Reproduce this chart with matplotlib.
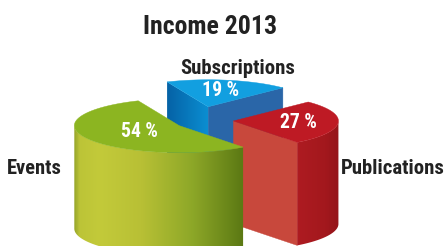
import numpy as np
import matplotlib
matplotlib.use("Agg")
import matplotlib.pyplot as plt
from matplotlib.patches import Polygon
from matplotlib.colors import LinearSegmentedColormap
from matplotlib import font_manager
from matplotlib.font_manager import FontProperties

# ---- data ----
title = "Income 2013"
categories = ["Subscriptions", "Publications", "Events"]
values = [19, 27, 54]
pct_labels = ["19 %", "27 %", "54 %"]

# ---- style / geometry ----
W, H = 447, 246
A, B = 105.0, 27.0          # ellipse semi-axes (px)
DEPTH = 103.0               # cylinder height (px)
CX, CY = 202.0, 120.0       # pie centre
START = 113.0               # start angle (deg), slices go clockwise
EXPLODE = [0.30, 0.30, 0.25]
EXPLODE_Y = 45.0
LABEL_R = [0.62, 0.62, 0.44]

top_col = ["#129fe0", "#be1a24", "#8cb521"]
cut_start_col = ["#2a66a8", "#c8483c", "#7fa020"]
side_maps = [
    LinearSegmentedColormap.from_list("b", ["#0a6fb3", "#1a8fd0"]),
    LinearSegmentedColormap.from_list("r", [(0.0, "#b01c22"), (0.7, "#a3181d"),
                                            (1.0, "#94151a")]),
    LinearSegmentedColormap.from_list("g", [(0.0, "#96a52a"), (0.03, "#bcc437"),
                                            (0.15, "#c3ca3a"), (0.40, "#b8c035"),
                                            (0.7, "#8ea828"), (1.0, "#5c7a14")]),
]
side_range = [(0.0, 1.0), (0.78, 1.0), (0.0, 0.8)]   # portion of width each map spans
blue_left_map = LinearSegmentedColormap.from_list("bl", ["#0562a6", "#0b8fd2"])


# ---- pick a bold condensed font if one is installed ----
def find_font():
    entries = font_manager.fontManager.ttflist
    prefs = ["Roboto Condensed", "Liberation Sans Narrow", "Arial Narrow",
             "Open Sans Condensed", "Noto Sans Condensed", "DejaVu Sans Condensed"]
    def is_bold(f):
        w = f.weight
        if isinstance(w, str):
            return w in ("bold", "heavy", "black", "demibold", "semibold", "extra bold")
        return w >= 600
    def is_cond(f):
        st = f.stretch
        n = f.name.lower() + " " + f.fname.lower()
        if isinstance(st, str):
            c = st in ("condensed", "semi-condensed", "extra-condensed", "ultra-condensed")
        else:
            c = st < 500
        return c or "condensed" in n or "narrow" in n
    cands = [f for f in entries if is_bold(f) and is_cond(f)
             and "italic" not in f.fname.lower() and f.style == "normal"]
    for p in prefs:
        for f in cands:
            if f.name == p or p.replace(" ", "").lower() in f.fname.replace("-", "").lower():
                return f.fname
    if cands:
        return cands[0].fname
    for f in entries:
        if f.name == "Liberation Sans" and is_bold(f) and f.style == "normal":
            return f.fname
    return None


FONT_FILE = find_font()


def fp(size):
    if FONT_FILE:
        return FontProperties(fname=FONT_FILE, size=size)
    return FontProperties(family="DejaVu Sans", weight="bold", size=size)


fig = plt.figure(figsize=(W / 100, H / 100), dpi=100)
ax = fig.add_axes([0, 0, 1, 1])
ax.axis("off")


def pt(cx, cy, th):
    t = np.radians(th)
    return cx + A * np.cos(t), cy - B * np.sin(t)


def poly(pts, color, z):
    p = Polygon(pts, closed=True, facecolor=color, edgecolor=color,
                linewidth=0.3, zorder=z)
    ax.add_patch(p)
    return p


def grad_poly(pts, cmap, x0, x1, z):
    """Polygon filled with a horizontal gradient: cmap(0) at x0 .. cmap(1) at x1."""
    pts = np.asarray(pts)
    p = Polygon(pts, closed=True, facecolor="none", edgecolor="none", zorder=z)
    ax.add_patch(p)
    xmin, xmax = pts[:, 0].min() - 1, pts[:, 0].max() + 1
    ymin, ymax = pts[:, 1].min() - 1, pts[:, 1].max() + 1
    xs = np.linspace(xmin, xmax, 400)
    u = np.clip((xs - x0) / (x1 - x0), 0, 1)
    img = cmap(u)[None, :, :]
    im = ax.imshow(img, extent=(xmin, xmax, ymax, ymin), aspect="auto",
                   interpolation="bilinear", zorder=z)
    im.set_clip_path(p)
    return im


texts = []  # (artist, target width px, base size)


def put(x, y, s, size, width, color, z=50):
    t = ax.text(x, y, s, color=color, ha="center", va="center", zorder=z,
                fontproperties=fp(size))
    texts.append((t, width, size))
    return t


total = float(sum(values))
angles = []
s = START
for v in values:
    e = s - 360.0 * v / total
    angles.append((e, s))  # ccw from e to s
    s = e

z = 1
for i, (t1, t2) in enumerate(angles):
    mid = (t1 + t2) / 2.0
    m = np.radians(mid)
    cx = CX + EXPLODE[i] * A * np.cos(m)
    cy = CY - EXPLODE[i] * EXPLODE_Y * np.sin(m)

    # radial cut faces (only those facing the viewer)
    for th, out in ((t1, t1 - 90.0), (t2, t2 + 90.0)):
        if np.sin(np.radians(out)) < 0:
            rx, ry = pt(cx, cy, th)
            quad = [(cx, cy), (rx, ry), (rx, ry + DEPTH), (cx, cy + DEPTH)]
            if i == 0 and th == t2:
                grad_poly(quad, blue_left_map, rx, cx, z)
            else:
                poly(quad, cut_start_col[i], z)
    z += 1

    # front curved side
    ths = np.linspace(t1, t2, 400)
    front = ths[np.sin(np.radians(ths)) <= 1e-9]
    if len(front) > 1:
        top_pts = [pt(cx, cy, th) for th in front]
        bot_pts = [(x, y + DEPTH) for x, y in top_pts[::-1]]
        r0, r1 = side_range[i]
        x0 = cx - A + 2 * A * r0
        x1 = cx - A + 2 * A * r1
        grad_poly(top_pts + bot_pts, side_maps[i], x0, x1, z)
    z += 1

    # top face
    arc = [pt(cx, cy, th) for th in np.linspace(t1, t2, 200)]
    poly([(cx, cy)] + arc, top_col[i], z)
    z += 1

    # percentage label
    lx = cx + LABEL_R[i] * A * np.cos(m)
    ly = cy - LABEL_R[i] * B * np.sin(m)
    put(lx, ly, pct_labels[i], 13, 37, "white")
    z += 1

TXT = "#222222"
put(210, 27, title, 19.5, 134, TXT)
put(237.5, 69, categories[0], 15, 115, TXT)
put(393, 168, categories[1], 15, 104, TXT)
put(34.5, 168, categories[2], 15, 55, TXT)

ax.set_xlim(0, W)
ax.set_ylim(H, 0)

# fit text widths to the reference layout
fig.canvas.draw()
r = fig.canvas.get_renderer()
for t, w, size in texts:
    bw = t.get_window_extent(r).width
    if bw > 0:
        t.set_fontsize(min(size * 1.15, size * w / bw))

fig.savefig("out.png", dpi=100)
